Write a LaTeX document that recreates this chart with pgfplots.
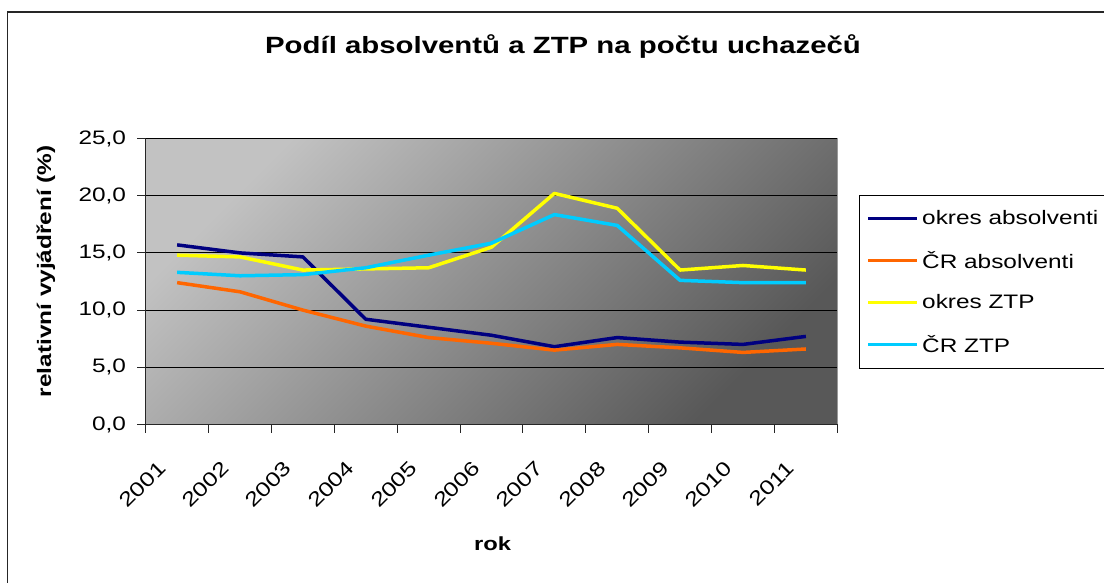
\documentclass[border=0pt]{standalone}
\usepackage{fontspec}
\setmainfont{Liberation Sans}[FakeStretch=1.25]
\usepackage{pgfplots}
\pgfplotsset{compat=1.18}
\definecolor{navyc}{RGB}{0,0,128}
\definecolor{orangec}{RGB}{255,102,0}
\definecolor{yellowc}{RGB}{255,255,0}
\definecolor{cyanc}{RGB}{0,204,255}
\definecolor{bgl}{RGB}{194,194,194}
\definecolor{bgd}{RGB}{88,88,88}
\begin{document}
\begin{tikzpicture}
\useasboundingbox (0,0) rectangle (1104pt,583pt);
\fill[white] (0,0) rectangle (1104pt,583pt);
\draw[line width=1.2pt, black!85] (7.5pt,-5pt) -- (7.5pt,571pt) -- (1110pt,571pt);
\begin{axis}[
  at={(145.7pt,158.5pt)}, anchor=south west, scale only axis,
  width=691.6pt, height=286pt,
  xmin=0.5, xmax=11.5, ymin=0, ymax=25,
  axis lines=left, axis line style={-, black!85, line width=1pt},
  axis background/.style={top color=bgl, bottom color=bgd, shading angle=45, draw=gray!80},
  xtick={0.5,1.5,...,11.5}, xticklabels={},
  extra x ticks={1,2,...,11},
  extra x tick labels={2001,2002,2003,2004,2005,2006,2007,2008,2009,2010,2011},
  extra x tick style={major tick length=0pt},
  ytick={0,5,...,25},
  ymajorgrids, major grid style={black, line width=0.9pt},
  tick align=outside, major tick length=8.5pt, tick style={black!85, line width=0.9pt},
  /pgf/number format/assume math mode=true,
  yticklabel style={/pgf/number format/.cd, fixed, fixed zerofill, precision=1, use comma, /tikz/.cd,
     font=\fontsize{19.5}{23}\selectfont, inner sep=0pt, xshift=-11pt},
  xticklabel style={xshift=-20pt, yshift=-35pt, font=\fontsize{20}{24}\selectfont, rotate=45, anchor=north east, inner sep=0pt},
  title={\textbf{Podíl absolventů a ZTP na počtu uchazečů}},
  title style={font=\fontsize{23.5}{28}\selectfont, at={(axis description cs:0.6034,1.2745)}, anchor=base, inner sep=0pt},
  xlabel={\textbf{rok}},
  xlabel style={font=\fontsize{19}{22}\selectfont, at={(axis description cs:0.5017,-0.418)}, anchor=center},
  ylabel={\textbf{relativní vyjádření (\%)}},
  ylabel style={font=\fontsize{19.5}{22}\selectfont, at={(axis description cs:-0.1442,0.536)}, anchor=center},
  legend style={at={(axis description cs:1.0318,0.8024)}, anchor=north west, draw=black, line width=0.9pt, fill=white,
     font=\fontsize{19.5}{23}\selectfont, inner xsep=7pt, inner ysep=12pt, row sep=19pt,
     nodes={inner sep=3pt}},
  legend cell align=left,
  legend image code/.code={\draw[#1, line width=3.5pt] (0pt,0pt) -- (49pt,0pt);},
  every axis plot/.append style={line width=3.5pt, line join=round},
]
\addplot[navyc] coordinates {(1,15.7) (2,15.0) (3,14.65) (4,9.2) (5,8.5) (6,7.8) (7,6.8) (8,7.6) (9,7.2) (10,7.0) (11,7.7)};
\addlegendentry{okres absolventi}
\addplot[orangec] coordinates {(1,12.4) (2,11.6) (3,10.0) (4,8.6) (5,7.6) (6,7.1) (7,6.5) (8,7.0) (9,6.7) (10,6.3) (11,6.6)};
\addlegendentry{ČR absolventi}
\addplot[yellowc] coordinates {(1,14.8) (2,14.65) (3,13.5) (4,13.6) (5,13.7) (6,15.5) (7,20.2) (8,18.9) (9,13.5) (10,13.9) (11,13.5)};
\addlegendentry{okres ZTP}
\addplot[cyanc] coordinates {(1,13.3) (2,13.0) (3,13.1) (4,13.7) (5,14.8) (6,15.85) (7,18.35) (8,17.4) (9,12.6) (10,12.4) (11,12.4)};
\addlegendentry{ČR ZTP}
\end{axis}
\end{tikzpicture}
\end{document}
